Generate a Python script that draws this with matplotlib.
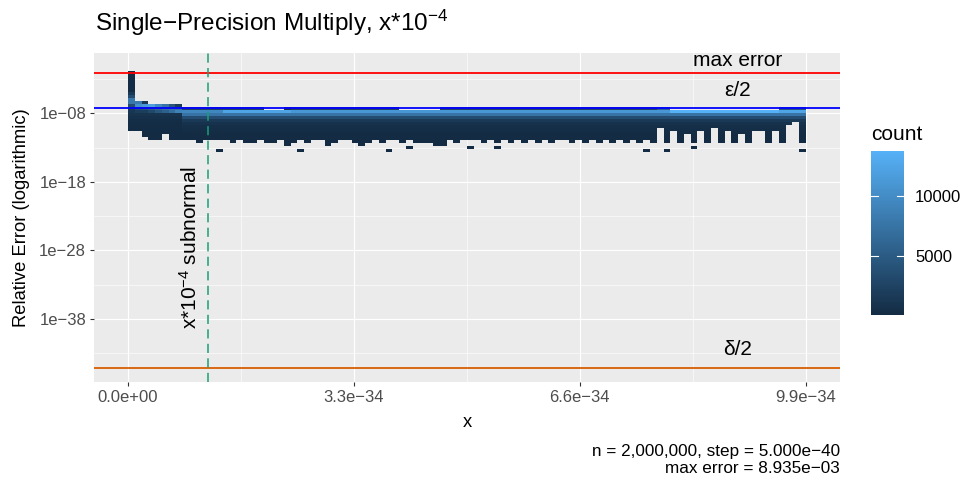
import matplotlib
matplotlib.use('Agg')
import numpy as np
import matplotlib.pyplot as plt
from matplotlib.colors import LinearSegmentedColormap, Normalize

plt.rcParams['font.family'] = ['Liberation Sans', 'DejaVu Sans']
plt.rcParams['mathtext.fontset'] = 'custom'
plt.rcParams['mathtext.rm'] = 'Liberation Sans'
plt.rcParams['mathtext.it'] = 'Liberation Sans:italic'

# -----------------------------
# DATA
# -----------------------------
n_cols = 100
n_rows = 27
bin_w = 9.9e-36       # x width of one bin
row_top = -1.79       # log10 of top edge of first y bin
row_h = 0.436         # log10 height of one y bin

max_err = 8.935e-3
eps_half = 2.0**-24
delta_half = 2.0**-150
x_subnormal = 1.17549435e-38 / 1e-4

x_ticks = [0, 3.3e-34, 6.6e-34, 9.9e-34]
x_labels = ["0.0e+00", "3.3e\u221234", "6.6e\u221234", "9.9e\u221234"]
y_ticks = [-38, -28, -18, -8]
y_labels = ["1e\u221238", "1e\u221228", "1e\u221218", "1e\u221208"]

# main body counts, rows 12..24
body_counts = [2500, 10500, 7500, 3500, 1500, 800, 500, 350, 250, 150, 100, 30, 5]

# bright band (row 13) per column segment
band_start = [8, 14, 24, 80, 96]
band_count = [9500, 12500, 11000, 13800, 12500]

# row 12 exceptions
row12_empty = [20, 21, 22, 40, 41, 42, 43, 44, 45, 80, 81, 82, 83, 84, 85,
               86, 87, 88, 89, 90, 91, 92, 93, 94, 95]
row12_cols = [23, 78, 79, 96, 97, 98, 99]
row12_vals = [800, 6000, 6000, 4500, 4500, 4500, 4500]

# first columns near x = 0: first row, counts down to row 13
head_first_row = [0, 10, 10, 11, 11, 11, 11, 11]
head_counts = [
    [200, 200, 200, 200, 200, 200, 200, 1500, 3500, 8000, 8000, 3500, 2000, 1200],
    [8400, 10500, 3500, 2000],
    [1500, 11500, 4000, 2000],
    [12000, 5000, 3000],
    [9500, 6000, 4500],
    [7500, 7000, 5500],
    [4500, 7500, 7000],
    [1800, 7500, 9000],
]
head_tail = [900, 600, 400, 300, 250, 200, 150, 100, 80, 20, 5]

# lowest filled row per column
bottom_row = [19, 19, 21, 22, 22, 20, 22, 22, 22, 22,
              23, 22, 22, 22, 22, 23, 22, 23, 23, 22,
              23, 23, 22, 24, 23, 22, 23, 22, 22, 24,
              23, 22, 22, 23, 24, 23, 22, 23, 22, 22,
              23, 22, 23, 23, 23, 24, 24, 22, 23, 22,
              22, 22, 23, 22, 23, 22, 23, 22, 23, 22,
              23, 22, 23, 22, 22, 23, 22, 23, 22, 23,
              22, 23, 22, 23, 22, 23, 22, 23, 18, 23,
              19, 23, 20, 23, 19, 23, 18, 23, 19, 23,
              20, 23, 19, 19, 23, 19, 23, 17, 16, 23]

# isolated single cells
stray_cols = [13, 25, 38, 41, 50, 54, 76, 79, 83, 99]
stray_rows = [26, 26, 26, 25, 25, 25, 26, 26, 25, 26]

# -----------------------------
# BUILD COUNT GRID
# -----------------------------
counts = np.zeros((n_rows, n_cols))
for c in range(n_cols):
    if c < len(head_first_row):
        r0 = head_first_row[c]
        vals = head_counts[c] + head_tail
    else:
        r0 = 12
        vals = list(body_counts)
        seg = max(i for i, s in enumerate(band_start) if s <= c)
        vals[1] = band_count[seg]
        if c in row12_empty:
            vals[0] = 0
        elif c in row12_cols:
            vals[0] = row12_vals[row12_cols.index(c)]
    for i, v in enumerate(vals):
        r = r0 + i
        if r <= bottom_row[c] and r < n_rows:
            counts[r, c] = v
for c, r in zip(stray_cols, stray_rows):
    counts[r, c] = 1

counts = np.ma.masked_equal(counts, 0)
x0, x1 = 0.0, n_cols * bin_w
y_hi, y_lo = row_top, row_top - n_rows * row_h

# -----------------------------
# PLOT
# -----------------------------
W, H = 965, 480
fig = plt.figure(figsize=(W / 100, H / 100), dpi=100)

def fx(px):
    return px / W

def fy(py):
    return 1 - py / H

ax = fig.add_axes([fx(94), fy(382), fx(840) - fx(94), fy(53) - fy(382)])
ax.set_facecolor("#EBEBEB")
for s in ax.spines.values():
    s.set_visible(False)

cmap = LinearSegmentedColormap.from_list("gg", ["#132B43", "#56B1F7"])
norm = Normalize(vmin=1, vmax=13800)
img = ax.imshow(counts, cmap=cmap, norm=norm, origin='upper', aspect='auto',
                extent=(x0, x1, y_lo, y_hi), interpolation='nearest', zorder=2)

ax.set_xlim(-4.92e-35, 1.0401e-33)
ax.set_ylim(-47.24, 0.83)

ax.set_xticks(x_ticks)
ax.set_xticklabels(x_labels)
ax.set_xticks([1.65e-34, 4.95e-34, 8.25e-34], minor=True)
ax.set_yticks(y_ticks)
ax.set_yticklabels(y_labels)
ax.set_yticks([-43, -33, -23, -13, -3], minor=True)

ax.grid(which='major', color='white', linewidth=0.85, zorder=0)
ax.grid(which='minor', color='white', linewidth=0.4, zorder=0)
ax.set_axisbelow(True)
ax.tick_params(which='major', length=2.75, width=0.8, color='#333333',
               labelsize=12, labelcolor='#4D4D4D', pad=3)
ax.tick_params(which='minor', length=0)

# reference lines
ax.axhline(np.log10(max_err), color='#FF0000', lw=1.3, zorder=3)
ax.axhline(np.log10(eps_half), color='#0000FF', lw=1.3, zorder=3)
ax.axhline(np.log10(delta_half), color='#D95F02', lw=1.3, zorder=3)
ax.axvline(x_subnormal, color='#1B9E77', lw=1.1, linestyle=(0, (6, 3.5)), zorder=3)

x_lab = 0.9 * 9.9e-34
ax.annotate("max error", xy=(x_lab, np.log10(max_err)), xytext=(0, 4.8),
            textcoords='offset points', ha='center', va='baseline', fontsize=15)
ax.annotate("\u03b5/2", xy=(x_lab, np.log10(eps_half)), xytext=(0, 8.5),
            textcoords='offset points', ha='center', va='baseline', fontsize=15)
ax.annotate("\u03b4/2", xy=(x_lab, np.log10(delta_half)), xytext=(0, 9.3),
            textcoords='offset points', ha='center', va='baseline', fontsize=15)
ax.annotate("x*10$^{\u22124}$ subnormal", xy=(x_subnormal, -27.6), xytext=(-5.5, 0),
            textcoords='offset points', ha='right', va='center', rotation=90,
            fontsize=15)

# titles and labels
fig.text(fx(95), fy(31), "Single\u2212Precision Multiply, x*10$^{\u22124}$",
         fontsize=17.5, ha='left', va='baseline')
fig.text(fx(467), fy(427), "x", fontsize=13.2, ha='center', va='baseline')
fig.text(fx(22), fy(217.5), "Relative Error (logarithmic)", fontsize=13.2,
         ha='center', va='center', rotation=90)
fig.text(fx(840), fy(456), "n = 2,000,000, step = 5.000e\u221240",
         fontsize=12.3, ha='right', va='baseline')
fig.text(fx(840), fy(473), "max error = 8.935e\u221203",
         fontsize=12.3, ha='right', va='baseline')

# colour bar legend
cax = fig.add_axes([fx(871), fy(315), fx(904) - fx(871), fy(151) - fy(315)])
cb = fig.colorbar(img, cax=cax)
cb.outline.set_visible(False)
cb.set_ticks([5000, 10000])
cb.set_ticklabels(["5000", "10000"])
cax.tick_params(length=0, labelsize=12, pad=8, labelcolor='black')
for v in [5000, 10000]:
    cax.plot([0, 0.2], [v, v], color='white', lw=0.8)
    cax.plot([0.8, 1], [v, v], color='white', lw=0.8)
fig.text(fx(871), fy(140), "count", fontsize=15, ha='left', va='baseline')

fig.savefig("out.png", dpi=100)
